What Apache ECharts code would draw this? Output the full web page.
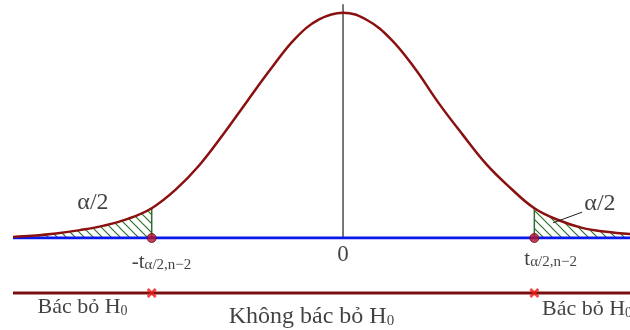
<!DOCTYPE html>
<html>
<head>
<meta charset="utf-8">
<script src="https://cdn.jsdelivr.net/npm/echarts@6/dist/echarts.min.js"></script>
<style>
  html, body { margin: 0; padding: 0; background: #fff; }
  #chart { width: 630px; height: 330px; }
</style>
</head>
<body>
<div id="chart"></div>
<script>
// Density curve of the t statistic (values read point by point)
const curveT = [-3.45, -3.25, -3.00, -2.75, -2.50, -2.25, -2.00, -1.75, -1.50, -1.25, -1.00, -0.75, -0.50, -0.25, 0, 0.25, 0.50, 0.75, 1.00, 1.25, 1.50, 1.75, 2.00, 2.25, 2.50, 2.75, 3.00];
const curveY = [0.002, 0.004, 0.008, 0.014, 0.022, 0.034, 0.053, 0.086, 0.130, 0.185, 0.244, 0.302, 0.355, 0.389, 0.401, 0.388, 0.354, 0.302, 0.240, 0.184, 0.131, 0.089, 0.053, 0.032, 0.018, 0.011, 0.007];

// Critical values ±t(α/2, n−2) and the curve height there
const critT = [-2.00, 2.00];
const critY = 0.053;

// Axis range
const tMin = -3.45;
const tMax = 3.00;
const yTop = 0.416;

// Text
const critLabels = ['-t{s|α/2,n−2}', 't{s|α/2,n−2}'];
const zeroLabel = '0';
const tailLabel = 'α/2';
const rejectLabel = 'Bác bỏ H{s|0}';
const acceptLabel = 'Không bác bỏ H{s|0}';

const curve = curveT.map((t, i) => [t, curveY[i]]);
const leftTail = curve.filter(p => p[0] <= critT[0]);
const rightTail = curve.filter(p => p[0] >= critT[1]);

function hatchPattern() {
  const c = document.createElement('canvas');
  c.width = 9; c.height = 9;
  const g = c.getContext('2d');
  g.strokeStyle = '#2a742a';
  g.lineWidth = 1.2;
  g.beginPath();
  g.moveTo(0, 0); g.lineTo(9, 9);
  g.moveTo(-2, 7); g.lineTo(2, 11);
  g.moveTo(7, -2); g.lineTo(11, 2);
  g.stroke();
  return c;
}
const hatch = { image: hatchPattern(), repeat: 'repeat' };

const serif = 'Liberation Serif';
const subStyle = (size, lh) => ({ fontSize: size, fontFamily: serif, color: '#111', lineHeight: lh, verticalAlign: 'bottom' });

const crossPath = 'path://M0,2L2,0L5,3L8,0L10,2L7,5L10,8L8,10L5,7L2,10L0,8L3,5Z';

const textPoint = (name, xIndex, point, label) => ({
  name, type: 'scatter', xAxisIndex: xIndex, yAxisIndex: xIndex,
  symbol: 'circle', symbolSize: 1, itemStyle: { color: 'transparent' },
  silent: true, z: 10, clip: false,
  data: [point],
  label: Object.assign({ show: true, fontFamily: serif, color: '#111' }, label)
});

const chart = echarts.init(document.getElementById('chart'), null, { renderer: 'canvas' });
chart.setOption({
  animation: false,
  backgroundColor: '#fff',
  grid: [
    { left: 13, right: 0, top: 2, bottom: 92 },
    { left: 13, right: 0, top: 283, height: 20 }
  ],
  xAxis: [
    { type: 'value', min: tMin, max: tMax, show: false, gridIndex: 0 },
    { type: 'value', min: tMin, max: tMax, show: false, gridIndex: 1 }
  ],
  yAxis: [
    { type: 'value', min: 0, max: 0.42, show: false, gridIndex: 0 },
    { type: 'value', min: 0, max: 1, show: false, gridIndex: 1 }
  ],
  series: [
    { name: 'left tail', type: 'line', data: leftTail, smooth: 0.4, symbol: 'none',
      lineStyle: { width: 0 }, areaStyle: { color: hatch, opacity: 1 }, z: 1, silent: true },
    { name: 'right tail', type: 'line', data: rightTail, smooth: 0.4, symbol: 'none',
      lineStyle: { width: 0 }, areaStyle: { color: hatch, opacity: 1 }, z: 1, silent: true },
    { name: 'left edge', type: 'line', data: [[critT[0], 0], [critT[0], critY]], symbol: 'none',
      lineStyle: { color: '#2e6b2e', width: 1.5 }, z: 2, silent: true },
    { name: 'right edge', type: 'line', data: [[critT[1], 0], [critT[1], critY]], symbol: 'none',
      lineStyle: { color: '#2e6b2e', width: 1.5 }, z: 2, silent: true },
    { name: 'center axis', type: 'line', data: [[0, 0], [0, yTop]], symbol: 'none',
      lineStyle: { color: '#4a4a4a', width: 1.5 }, z: 2, silent: true },
    { name: 'baseline', type: 'line', data: [[tMin, 0], [tMax, 0]], symbol: 'none',
      lineStyle: { color: '#0a18f0', width: 3 }, z: 3, silent: true },
    { name: 'density', type: 'line', data: curve, smooth: 0.4, symbol: 'none',
      lineStyle: { color: '#8b1010', width: 2.5 }, z: 4, silent: true },
    { name: 'leader', type: 'line', data: [[2.195, 0.027], [2.50, 0.046]], symbol: 'none',
      lineStyle: { color: '#222', width: 1 }, z: 5, silent: true },
    { name: 'critical', type: 'scatter', data: critT.map(t => [t, 0]), symbol: 'circle', symbolSize: 9,
      itemStyle: { color: '#b3122e', borderColor: '#6e0a18', borderWidth: 1 }, z: 6, silent: true,
      label: {
        show: true, position: 'bottom', align: 'left', fontFamily: serif, fontSize: 21, color: '#111',
        formatter: p => critLabels[p.dataIndex],
        rich: { s: subStyle(15, 12) }
      },
      labelLayout: p => ({ dx: p.dataIndex === 0 ? -20 : -10, dy: p.dataIndex === 0 ? 4 : 1 })
    },
    textPoint('zero', 0, [0, 0], { position: 'bottom', distance: 5, fontSize: 23, formatter: zeroLabel }),
    textPoint('alpha left', 0, [-2.614, 0.0623], { position: 'inside', fontSize: 24, formatter: tailLabel }),
    textPoint('alpha right', 0, [2.686, 0.0605], { position: 'inside', fontSize: 24, formatter: tailLabel }),

    { name: 'decision line', type: 'line', xAxisIndex: 1, yAxisIndex: 1,
      data: [[tMin, 0.5], [tMax, 0.5]], symbol: 'none',
      lineStyle: { color: '#7a1010', width: 3 }, z: 3, silent: true },
    { name: 'cut points', type: 'scatter', xAxisIndex: 1, yAxisIndex: 1,
      data: critT.map(t => [t, 0.5]), symbol: crossPath, symbolSize: 10,
      itemStyle: { color: '#f01818' }, z: 6, silent: true },
    textPoint('reject left', 1, [-2.723, 0.5], { position: 'inside', offset: [0, 14], fontSize: 22,
      formatter: rejectLabel, rich: { s: subStyle(14, 10) } }),
    textPoint('accept', 1, [-0.33, 0.5], { position: 'inside', offset: [0, 24], fontSize: 24,
      formatter: acceptLabel, rich: { s: subStyle(15, 12) } }),
    textPoint('reject right', 1, [2.08, 0.5], { position: 'inside', align: 'left', offset: [0, 16], fontSize: 22,
      formatter: rejectLabel, rich: { s: subStyle(14, 10) } })
  ]
});
</script>
</body>
</html>
